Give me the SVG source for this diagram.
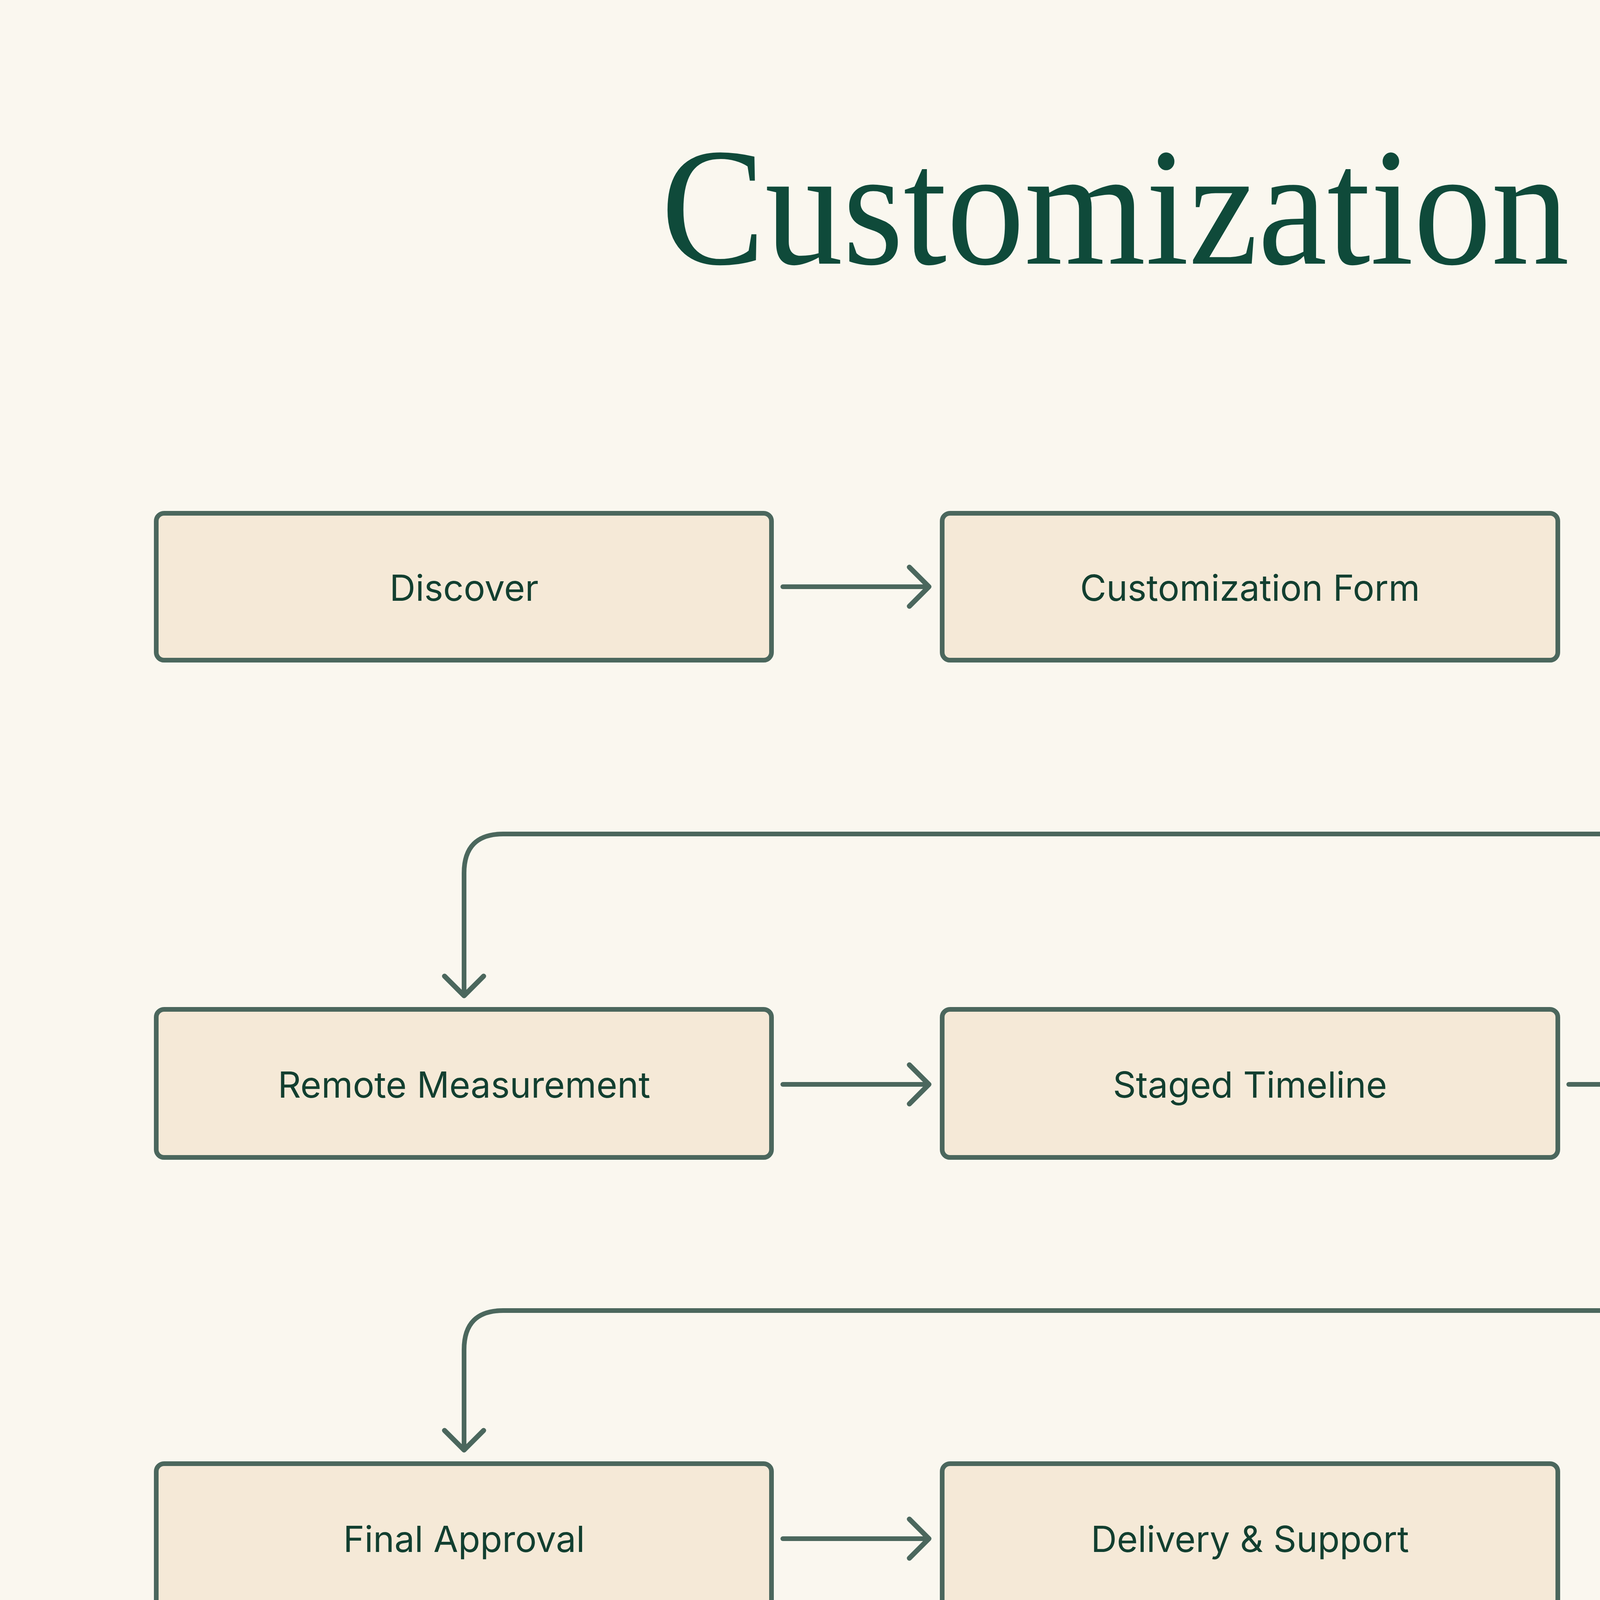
<svg xmlns="http://www.w3.org/2000/svg" width="6400" height="4800" viewBox="0 0 6400 4800">
<style>
.n rect{fill:#f5e9d7;stroke:#4b675d;stroke-width:12}
.n text{font-family:Inter,"Noto Sans",sans-serif;font-size:92px;fill:#123f30;text-anchor:middle;dominant-baseline:central}
.c path{fill:none;stroke:#4b675d;stroke-width:12;stroke-linecap:round;stroke-linejoin:round}
</style>
<defs>
<marker id="a" viewBox="-80 -80 100 160" refX="0" refY="0" markerWidth="100" markerHeight="160" markerUnits="userSpaceOnUse" orient="auto" overflow="visible">
<path d="M-50,-50 L0,0 L-50,50" fill="none" stroke="#4b675d" stroke-width="13" stroke-linecap="round" stroke-linejoin="round"/>
</marker>
</defs>
<rect width="6400" height="4800" fill="#faf7ef"/>
<text x="3270" y="675" text-anchor="middle" font-family="'Liberation Serif',serif" font-size="430" fill="#0f4a3a" textLength="3155" lengthAdjust="spacingAndGlyphs">Customization flow</text>
<g class="c">
<path d="M2004,1502 H2378" marker-end="url(#a)"/>
<path d="M5212,1722 V2035 Q5212,2135 5112,2135 H1288 Q1188,2135 1188,2235 V2549" marker-end="url(#a)"/>
<path d="M2004,2776 H2378" marker-end="url(#a)"/>
<path d="M4016,2776 H4390" marker-end="url(#a)"/>
<path d="M5212,2992 V3255 Q5212,3355 5112,3355 H1288 Q1188,3355 1188,3455 V3712" marker-end="url(#a)"/>
<path d="M2004,3939 H2378" marker-end="url(#a)"/>
</g>
<g id="n1" class="n"><rect x="400" y="1314" width="1575" height="376" rx="20"/><text x="1188" y="1504">Discover</text></g>
<g id="n2" class="n"><rect x="2412" y="1314" width="1576" height="376" rx="20"/><text x="3200" y="1504">Customization Form</text></g>
<g id="n3" class="n"><rect x="4424" y="1314" width="1576" height="376" rx="20"/><text x="5212" y="1504">Video Consultation</text></g>
<g id="n4" class="n"><rect x="400" y="2584" width="1575" height="379" rx="20"/><text x="1188" y="2776">Remote Measurement</text></g>
<g id="n5" class="n"><rect x="2412" y="2584" width="1576" height="379" rx="20"/><text x="3200" y="2776">Staged Timeline</text></g>
<g id="n6" class="n"><rect x="4424" y="2584" width="1576" height="379" rx="20"/><text x="5212" y="2776">Progress Updates</text></g>
<g id="n7" class="n"><rect x="400" y="3747" width="1575" height="380" rx="20"/><text x="1188" y="3939">Final Approval</text></g>
<g id="n8" class="n"><rect x="2412" y="3747" width="1576" height="380" rx="20"/><text x="3200" y="3939">Delivery &amp; Support</text></g>
</svg>
